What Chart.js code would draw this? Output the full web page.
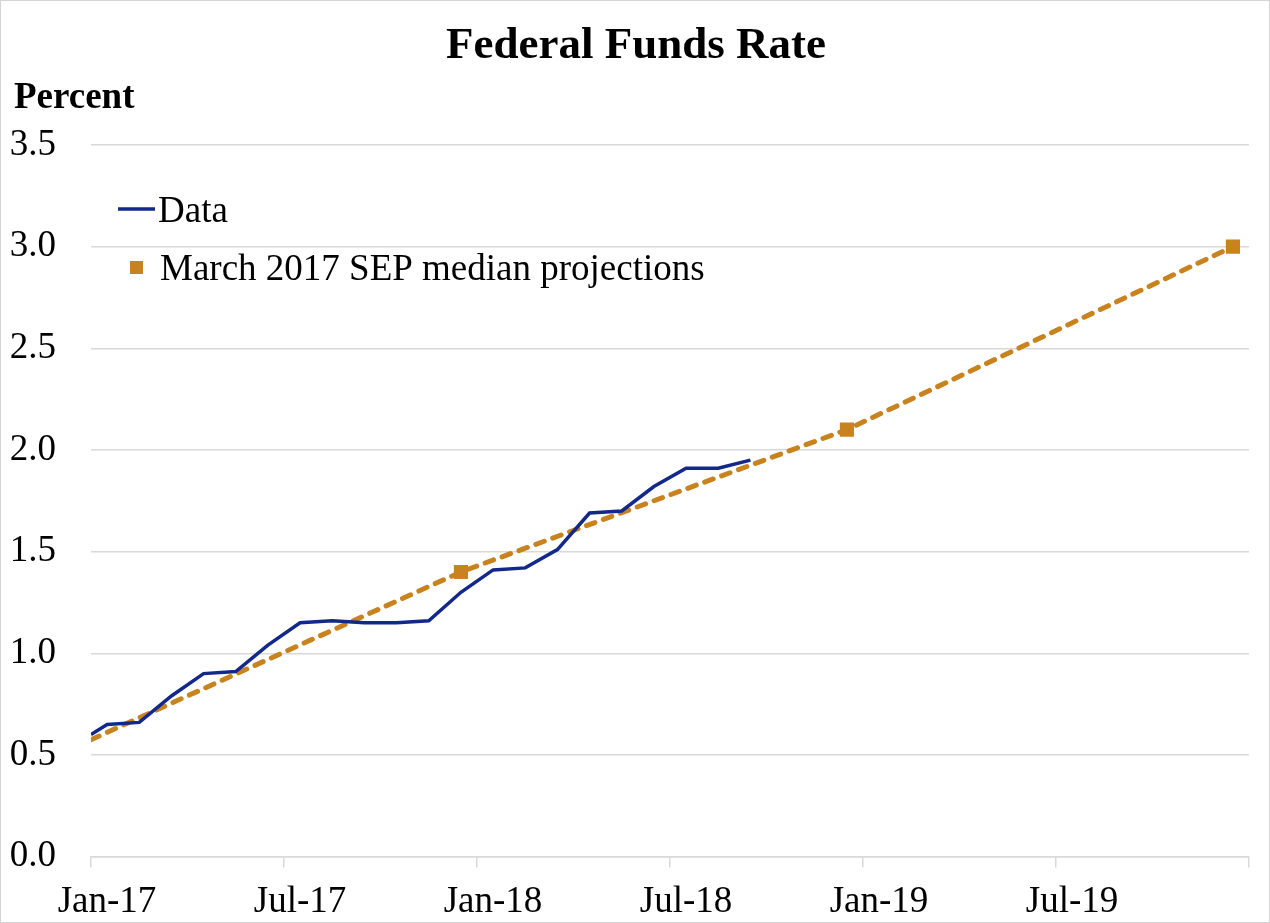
<!DOCTYPE html>
<html>
<head>
<meta charset="utf-8">
<script src="https://cdn.jsdelivr.net/npm/chart.js@4/dist/chart.umd.min.js"></script>
<style>
  html, body { margin: 0; padding: 0; background: #fff; }
  #wrap { width: 1270px; height: 923px; box-sizing: border-box; border: 1px solid #d4d4d4; }
  canvas { display: block; }
</style>
</head>
<body>
<div id="wrap"><canvas id="grafico" width="1268" height="921"></canvas></div>
<script>
// months since Jan 2017 (monthly averages plotted mid-month)
const dataMonths = [0, 0.5, 1.5, 2.5, 3.5, 4.5, 5.5, 6.5, 7.5, 8.5, 9.5, 10.5,
  11.5, 12.5, 13.5, 14.5, 15.5, 16.5, 17.5, 18.5, 19.5, 20.5];
const dataValues = [0.60, 0.65, 0.66, 0.79, 0.90, 0.91, 1.04, 1.15, 1.16, 1.15, 1.15, 1.16,
  1.30, 1.41, 1.42, 1.51, 1.69, 1.70, 1.82, 1.91, 1.91, 1.95];

// March 2017 SEP median projections (year-end)
const projMonths = [0, 11.5, 23.5, 35.5];
const projValues = [0.575, 1.4, 2.1, 3.0];

const tickMonths = [0, 6, 12, 18, 24, 30, 36];
const tickLabels = ['Jan-17', 'Jul-17', 'Jan-18', 'Jul-18', 'Jan-19', 'Jul-19', ''];

const TITLE = 'Federal Funds Rate';
const UNIT = 'Percent';

const FONT = "'Liberation Serif', 'Times New Roman', serif";
const NAVY = '#12288a';
const GOLD = '#c8831f';
const GRID = '#d9d9d9';

// titulo, unidad y leyenda dibujados sobre el grafico
const textosGrafico = {
  id: 'textosGrafico',
  afterDraw(chart) {
    const ctx = chart.ctx;
    ctx.save();
    ctx.textBaseline = 'middle';
    ctx.fillStyle = '#000';
    ctx.font = "bold 45px " + FONT;
    ctx.textAlign = 'center';
    ctx.fillText(TITLE, 635, 45);
    ctx.textAlign = 'left';
    ctx.font = "bold 37px " + FONT;
    ctx.fillText(UNIT, 13, 97);
    ctx.font = "37px " + FONT;
    // Data
    ctx.strokeStyle = NAVY;
    ctx.lineWidth = 3.5;
    ctx.beginPath();
    ctx.moveTo(117, 208);
    ctx.lineTo(154, 208);
    ctx.stroke();
    ctx.fillText(chart.data.datasets[0].label, 157, 211);
    // projections
    ctx.fillStyle = GOLD;
    ctx.fillRect(129, 260, 13, 13);
    ctx.fillStyle = '#000';
    ctx.fillText(chart.data.datasets[1].label, 159, 269);
    ctx.restore();
  }
};

new Chart(document.getElementById('grafico'), {
  type: 'line',
  data: {
    datasets: [{
      label: 'Data',
      data: dataMonths.map((m, i) => ({ x: m, y: dataValues[i] })),
      borderColor: NAVY,
      borderWidth: 3.5,
      pointRadius: 0,
      tension: 0
    }, {
      label: 'March 2017 SEP median projections',
      data: projMonths.map((m, i) => ({ x: m, y: projValues[i] })),
      borderColor: GOLD,
      backgroundColor: GOLD,
      borderWidth: 5,
      borderDash: [9, 9],
      borderCapStyle: 'round',
      pointStyle: 'rect',
      pointRadius: [0, 10, 10, 10],
      pointBorderWidth: 0,
      tension: 0
    }]
  },
  options: {
    responsive: false,
    animation: false,
    layout: { padding: { left: 0, right: 20, top: 144, bottom: -14 } },
    plugins: {
      legend: { display: false },
      tooltip: { enabled: false },
      title: { display: false }
    },
    scales: {
      x: {
        type: 'linear',
        min: 0,
        max: 36,
        afterBuildTicks: axis => { axis.ticks = tickMonths.map(v => ({ value: v })); },
        grid: { drawOnChartArea: false, drawTicks: true, tickLength: 11, color: GRID, lineWidth: 1.5 },
        border: { color: GRID, width: 1.5 },
        ticks: {
          color: '#000',
          font: { family: FONT, size: 37 },
          padding: 12,
          labelOffset: 16,
          maxRotation: 0,
          autoSkip: false,
          callback: (v, i) => tickLabels[i]
        }
      },
      y: {
        min: 0,
        max: 3.5,
        afterFit: axis => { axis.width = 90; },
        grid: { color: GRID, lineWidth: 1.5, drawTicks: false },
        border: { display: false },
        ticks: {
          stepSize: 0.5,
          color: '#000',
          font: { family: FONT, size: 37 },
          padding: 35,
          callback: v => v.toFixed(1)
        }
      }
    }
  },
  plugins: [textosGrafico]
});
</script>
</body>
</html>
